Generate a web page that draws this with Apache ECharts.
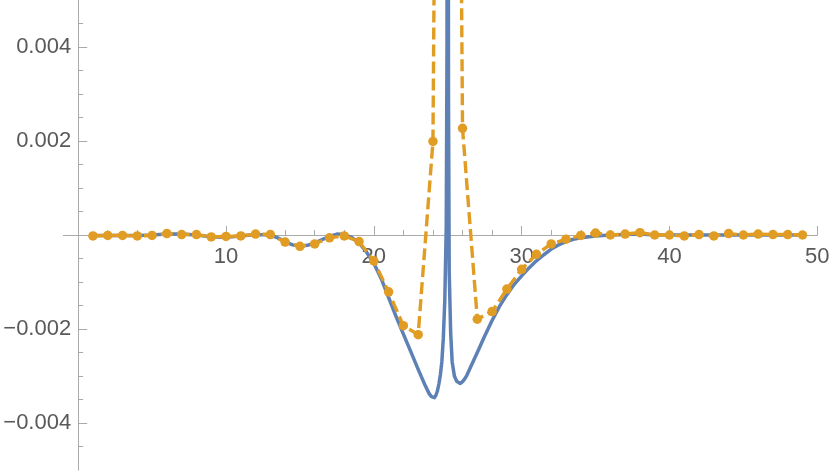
<!DOCTYPE html>
<html>
<head>
<meta charset="utf-8">
<script src="https://cdn.jsdelivr.net/npm/echarts@6/dist/echarts.min.js"></script>
<style>
html,body{margin:0;padding:0;background:#fff;}
#chart{width:830px;height:471px;}
</style>
</head>
<body>
<div id="chart"></div>
<script>
// Continuous curve (blue)
var blueX = [1,2,3,4,5,6,7,8,9,10,11,12,13,13.5,14,14.5,15,15.5,16,16.5,17,17.5,18,18.5,19,19.5,20,20.5,21,21.5,22,22.5,23,23.5,23.75,23.9,24,24.1,24.2,24.3,24.4,24.5,24.6,24.7,24.8,24.9,24.95,25,25.05,25.1,25.2,25.3,25.45,25.6,25.7,25.85,26,26.15,26.3,26.5,27,27.5,28,28.5,29,29.5,30,30.5,31,31.5,32,32.5,33,33.5,34,35,36,37,38,39,40,41,42,43,44,45,46,47,48,49];
var blueY = [-0.00001,-0.00001,-0.00001,-0.00001,0,0.00002,0.00002,0,-0.00004,-0.00005,-0.00002,0.00001,0,-0.00006,-0.00014,-0.00021,-0.00024,-0.00022,-0.00017,-0.0001,-0.00003,0.00002,0.00001,-0.00005,-0.00017,-0.00036,-0.0006,-0.00093,-0.00133,-0.00173,-0.00211,-0.00248,-0.00286,-0.00322,-0.00338,-0.00344,-0.00347,-0.00346,-0.00341,-0.00332,-0.00317,-0.00298,-0.0027,-0.0022,-0.0014,0.0002,0.004,0.03,0.003,-0.0008,-0.0021,-0.0027,-0.003,-0.00311,-0.00315,-0.00316,-0.00312,-0.00306,-0.00298,-0.00284,-0.0025,-0.00215,-0.00182,-0.00152,-0.00127,-0.00105,-0.00087,-0.0007,-0.00055,-0.00042,-0.0003,-0.00021,-0.00014,-0.00009,-0.00006,-0.00002,0,0.00001,0.00002,0,0,0,0,0,0,0,0,0,0,0];

// Discrete points (orange)
var orangeX = [1,2,3,4,5,6,7,8,9,10,11,12,13,14,15,16,17,18,19,20,21,22,23,24,25,26,27,28,29,30,31,32,33,34,35,36,37,38,39,40,41,42,43,44,45,46,47,48,49];
var orangeY = [-0.00002,-0.00001,-0.00001,-0.00002,-0.00001,0.00003,0.00001,0.00001,-0.00004,-0.00003,-0.00002,0.00002,0.00001,-0.00015,-0.00024,-0.00019,-0.00006,-0.00002,-0.00014,-0.00055,-0.00121,-0.00193,-0.00212,0.00199,0.045,0.00227,-0.00179,-0.00163,-0.00115,-0.00073,-0.00041,-0.00019,-0.00009,-0.00001,0.00004,0,0.00002,0.00005,0,0,-0.00002,0.00001,-0.00002,0.00003,0,0.00002,0.00001,0.00001,0];

// Ticks
var xMajorTicks = [10,20,30,40,50];
var xMinorTicks = [2,4,6,8,12,14,16,18,22,24,26,28,32,34,36,38,42,44,46,48];
var yMajorTicks = [-0.004,-0.002,0.002,0.004];
var yMinorTicks = [-0.0045,-0.0035,-0.003,-0.0025,-0.0015,-0.001,-0.0005,0.0005,0.001,0.0015,0.0025,0.003,0.0035,0.0045];

var X_MIN = -1, X_MAX = 50, Y_MIN = -0.005, Y_MAX = 0.005;

var axisColor = '#aaaaaa';
var labelColor = '#595959';
var fontFamily = 'Liberation Sans, Arial, sans-serif';
var fontSize = 22;

// layout of the plotting frame
var W = 830, H = 471;
var pLeft = 63.4, pRight = 12.7, pTop = 0, pHeight = 470;
var pWidth = W - pLeft - pRight;
var zeroXpx = pLeft + pWidth * (0 - X_MIN) / (X_MAX - X_MIN);
var zeroYpx = pTop + pHeight * (Y_MAX - 0) / (Y_MAX - Y_MIN);

function fmtY(v){
  var s = Math.abs(v).toFixed(3);
  return v < 0 ? '\u2212' + s : s;
}

function hiddenAxis(grid, min, max){
  return {type: 'value', gridIndex: grid, min: min, max: max, show: false,
          axisLine: {onZero: false}, splitLine: {show: false}};
}

var chart = echarts.init(document.getElementById('chart'), null, {renderer:'canvas'});
chart.setOption({
  animation: false,
  backgroundColor: '#ffffff',
  grid: [
    {left: pLeft, width: pWidth, top: pTop, height: pHeight, outerBoundsMode: 'none', containLabel: false},
    {left: pLeft, width: pWidth, top: pTop, height: zeroYpx - pTop, outerBoundsMode: 'none', containLabel: false},
    {left: zeroXpx, width: W - pRight - zeroXpx, top: pTop, height: pHeight, outerBoundsMode: 'none', containLabel: false}
  ],
  xAxis: [
    hiddenAxis(0, X_MIN, X_MAX),
    {
      type: 'value', gridIndex: 1, min: X_MIN, max: X_MAX, position: 'bottom',
      axisLine: {show: true, onZero: false, lineStyle: {color: axisColor, width: 1}},
      axisTick: {show: true, inside: true, length: 9, customValues: xMajorTicks, lineStyle: {color: axisColor}},
      axisLabel: {show: true, customValues: xMajorTicks, margin: 11, fontSize: fontSize, color: labelColor, fontFamily: fontFamily},
      splitLine: {show: false}
    },
    {
      type: 'value', gridIndex: 1, min: X_MIN, max: X_MAX, position: 'bottom',
      axisLine: {show: false, onZero: false},
      axisTick: {show: true, inside: true, length: 5, customValues: xMinorTicks, lineStyle: {color: axisColor}},
      axisLabel: {show: false},
      splitLine: {show: false}
    },
    hiddenAxis(2, 0, 1)
  ],
  yAxis: [
    hiddenAxis(0, Y_MIN, Y_MAX),
    hiddenAxis(1, 0, 1),
    {
      type: 'value', gridIndex: 2, min: Y_MIN, max: Y_MAX, position: 'left',
      axisLine: {show: true, onZero: false, lineStyle: {color: axisColor, width: 1}},
      axisTick: {show: true, inside: true, length: 9, customValues: yMajorTicks, lineStyle: {color: axisColor}},
      axisLabel: {show: true, customValues: yMajorTicks, margin: 7, fontSize: fontSize, color: labelColor, fontFamily: fontFamily, formatter: fmtY},
      splitLine: {show: false}
    },
    {
      type: 'value', gridIndex: 2, min: Y_MIN, max: Y_MAX, position: 'left',
      axisLine: {show: false, onZero: false},
      axisTick: {show: true, inside: true, length: 5, customValues: yMinorTicks, lineStyle: {color: axisColor}},
      axisLabel: {show: false},
      splitLine: {show: false}
    }
  ],
  series: [
    {
      type: 'line', xAxisIndex: 0, yAxisIndex: 0,
      data: blueX.map(function(x, i){ return [x, blueY[i]]; }),
      showSymbol: false, symbol: 'none', smooth: false, clip: true,
      lineStyle: {color: '#5E81B5', width: 3.5, cap: 'round', join: 'round'},
      z: 2
    },
    {
      type: 'line', xAxisIndex: 0, yAxisIndex: 0,
      data: orangeX.map(function(x, i){ return [x, orangeY[i]]; }),
      symbol: 'circle', symbolSize: 9.5, showSymbol: true, clip: true,
      itemStyle: {color: '#E19C24'},
      lineStyle: {color: '#E19C24', width: 3.4, type: [12, 5]},
      z: 3
    }
  ]
});
</script>
</body>
</html>
